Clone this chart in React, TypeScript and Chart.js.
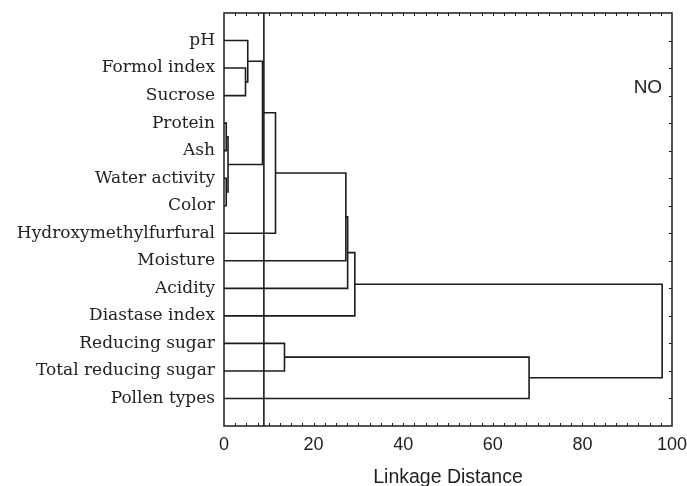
import React, { useEffect, useRef } from "react";
import { Chart, registerables } from "chart.js";

Chart.register(...registerables);

// Leaves, top to bottom
const leaves: string[] = [
  "pH",
  "Formol index",
  "Sucrose",
  "Protein",
  "Ash",
  "Water activity",
  "Color",
  "Hydroxymethylfurfural",
  "Moisture",
  "Acidity",
  "Diastase index",
  "Reducing sugar",
  "Total reducing sugar",
  "Pollen types",
];

// Merges: node ids 0..13 are leaves, 14+ are clusters in order of creation
const mergeLeft: number[] = [1, 0, 3, 5, 16, 15, 19, 20, 21, 22, 11, 24, 23];
const mergeRight: number[] = [2, 14, 4, 6, 17, 18, 7, 8, 9, 10, 12, 13, 25];
const mergeHeight: number[] = [4.8, 5.3, 0.5, 0.5, 0.9, 8.6, 11.5, 27.2, 27.6, 29.2, 13.5, 68.1, 97.8];

const cutoffDistance = 8.9;
const xTicks: number[] = [0, 20, 40, 60, 80, 100];
const annotationText = "NO";

const LINE = "#1c1c1c";

function buildSegments() {
  const n = leaves.length;
  const nodeY: number[] = leaves.map((_, i) => i + 1);
  const nodeH: number[] = leaves.map(() => 0);
  const segs: { x: number; y: number }[][] = [];
  for (let k = 0; k < mergeHeight.length; k++) {
    const a = mergeLeft[k];
    const b = mergeRight[k];
    const h = mergeHeight[k];
    const ya = nodeY[a];
    const yb = nodeY[b];
    segs.push([
      { x: nodeH[a], y: ya },
      { x: h, y: ya },
      { x: h, y: yb },
      { x: nodeH[b], y: yb },
    ]);
    nodeY[n + k] = (ya + yb) / 2;
    nodeH[n + k] = h;
  }
  return segs;
}

const framePlugin = {
  id: "frame",
  afterDatasetsDraw(chart: any) {
    const { ctx, chartArea, scales } = chart;
    const { left, right, top, bottom } = chartArea;
    ctx.save();
    ctx.strokeStyle = LINE;
    ctx.lineWidth = 1.5;
    ctx.strokeRect(left, top, right - left, bottom - top);
    ctx.lineWidth = 1;
    ctx.beginPath();
    for (let v = 2.5; v < 100; v += 2.5) {
      const px = Math.round(scales.x.getPixelForValue(v)) + 0.5;
      ctx.moveTo(px, bottom);
      ctx.lineTo(px, bottom - 3);
      ctx.moveTo(px, top);
      ctx.lineTo(px, top + 3);
    }
    for (let i = 1; i <= leaves.length; i++) {
      const py = Math.round(scales.y.getPixelForValue(i)) + 0.5;
      ctx.moveTo(right, py);
      ctx.lineTo(right - 3, py);
    }
    ctx.stroke();
    ctx.fillStyle = "#222";
    ctx.font = "19px 'Liberation Sans', Arial, sans-serif";
    ctx.textAlign = "right";
    ctx.textBaseline = "middle";
    ctx.fillText(annotationText, scales.x.getPixelForValue(97.8), scales.y.getPixelForValue(2.7));
    ctx.restore();
  },
};

export default function App() {
  const ref = useRef<HTMLCanvasElement | null>(null);
  useEffect(() => {
    if (!ref.current) return;
    const segs = buildSegments();
    const datasets: any[] = segs.map((s) => ({
      data: s,
      showLine: true,
      borderColor: LINE,
      borderWidth: 1.6,
      pointRadius: 0,
      fill: false,
      tension: 0,
    }));
    datasets.push({
      data: [
        { x: cutoffDistance, y: 0 },
        { x: cutoffDistance, y: leaves.length + 1 },
      ],
      showLine: true,
      borderColor: LINE,
      borderWidth: 1.6,
      pointRadius: 0,
      fill: false,
    });
    const chart = new Chart(ref.current, {
      type: "scatter",
      data: { datasets },
      options: {
        animation: false,
        responsive: false,
        layout: { padding: { top: 13, right: 15, left: 0, bottom: 0 } },
        plugins: { legend: { display: false }, tooltip: { enabled: false } },
        scales: {
          x: {
            type: "linear",
            min: 0,
            max: 100,
            afterFit: (s: any) => {
              s.height = 60;
              s.paddingLeft = 0;
              s.paddingRight = 0;
            },
            afterBuildTicks: (s: any) => {
              s.ticks = xTicks.map((v) => ({ value: v }));
            },
            grid: { display: false, drawTicks: false },
            border: { display: false },
            ticks: {
              padding: 8,
              color: "#222",
              font: { family: "'Liberation Sans', Arial, sans-serif", size: 18 },
              maxRotation: 0,
            },
            title: {
              display: true,
              text: "Linkage Distance",
              color: "#222",
              font: { family: "'Liberation Sans', Arial, sans-serif", size: 19.5 },
              padding: { top: 0, bottom: -3 },
            },
          },
          y: {
            type: "linear",
            reverse: true,
            min: 0,
            max: leaves.length + 1,
            afterFit: (s: any) => {
              s.width = 224;
              s.paddingTop = 0;
              s.paddingBottom = 0;
            },
            afterBuildTicks: (s: any) => {
              s.ticks = leaves.map((_, i) => ({ value: i + 1 }));
            },
            grid: { display: false, drawTicks: false },
            border: { display: false },
            ticks: {
              autoSkip: false,
              padding: 9,
              color: "#222",
              font: { family: "'DejaVu Serif', serif", size: 17 },
              callback: (v: any) => {
                const i = Number(v) - 1;
                return leaves[i] ?? "";
              },
            },
          },
        },
      },
      plugins: [framePlugin],
    });
    return () => chart.destroy();
  }, []);
  return (
    <canvas
      ref={ref}
      width={687}
      height={486}
      style={{ position: "absolute", left: 0, top: 0, background: "#fff" }}
    />
  );
}
